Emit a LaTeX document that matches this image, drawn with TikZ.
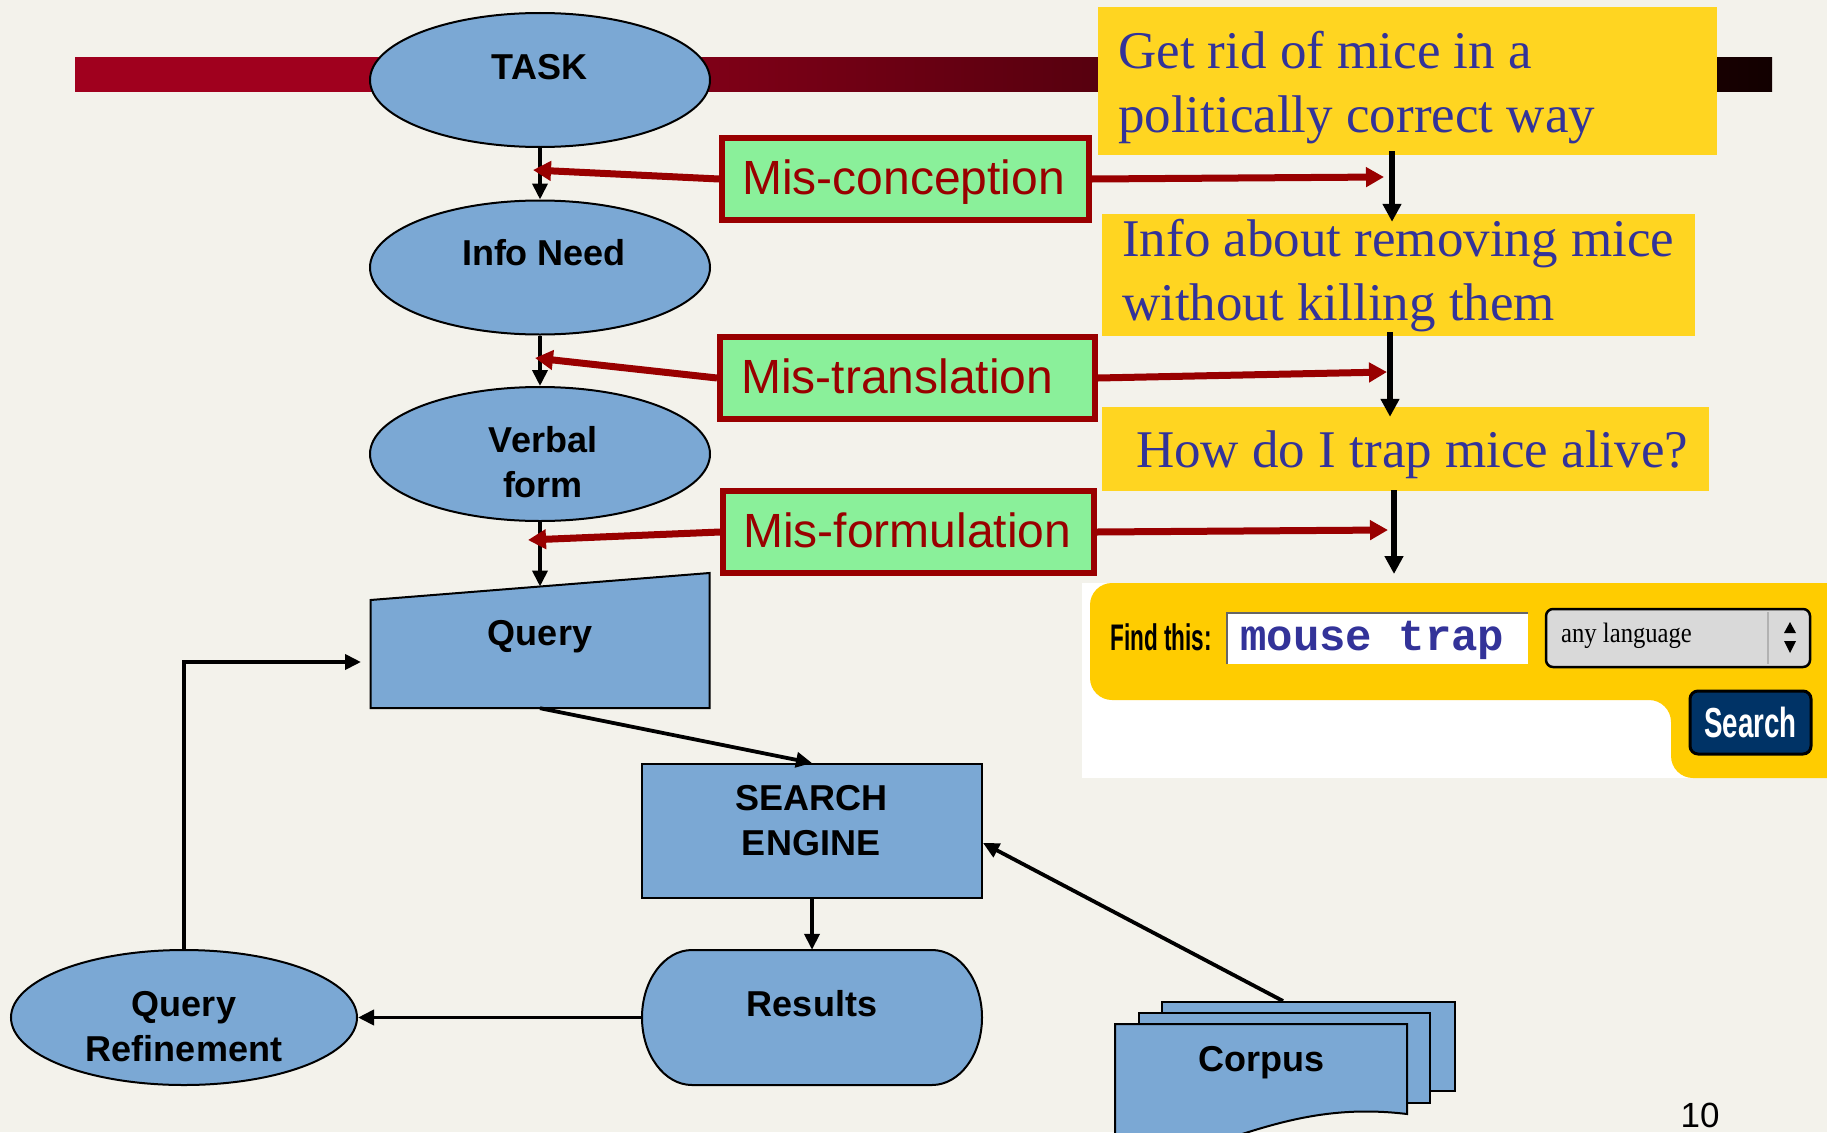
\documentclass[tikz,border=0pt]{standalone}
\usepackage{graphicx}
\usepackage{fontspec}
\setmainfont{Liberation Sans}
\newfontfamily\serifA{Liberation Serif}
\newfontfamily\monoA{Liberation Mono}
\usetikzlibrary{shapes.geometric,arrows.meta}
\definecolor{bgc}{HTML}{F3F2EB}
\definecolor{shapeblue}{HTML}{7BA8D4}
\definecolor{misred}{HTML}{990000}
\definecolor{misgreen}{HTML}{8AF09A}
\definecolor{noteyellow}{HTML}{FFD521}
\definecolor{notetext}{HTML}{333399}
\definecolor{wyellow}{HTML}{FFCC00}
\definecolor{navy}{HTML}{003366}
\definecolor{barred}{HTML}{A0001E}
\definecolor{bardark}{HTML}{120000}
\pgfdeclarehorizontalshading{barshade}{100bp}{color(0bp)=(barred); color(25bp)=(barred); color(34bp)=(barred); color(75bp)=(bardark); color(100bp)=(bardark)}
\begin{document}
\begin{tikzpicture}[x=1pt,y=-1pt,
  blueshape/.style={draw=black, line width=2pt, fill=shapeblue},
  ell/.style={blueshape, ellipse, inner sep=0pt},
  boxshape/.style={blueshape, rectangle, inner sep=0pt},
  hold/.style={rectangle, inner sep=0pt},
  lbl/.style={font=\bfseries\fontsize{36}{45}\selectfont, align=center, inner sep=0pt, anchor=base},
  misbox/.style={rectangle, draw=misred, fill=misgreen, line width=6pt, minimum height=82.5pt, inner sep=0pt},
  mistext/.style={text=misred, font=\fontsize{48}{58}\selectfont, anchor=base west, inner sep=0pt},
  note/.style={rectangle, fill=noteyellow, inner sep=0pt},
  notetxt/.style={text=notetext, font=\serifA\fontsize{53}{64}\selectfont, align=left, anchor=base west, inner sep=0pt},
  flow/.style={line width=3.8pt, -{Triangle[length=16pt,width=15pt]}},
  rflow/.style={line width=5.5pt, -{Triangle[length=18pt,width=18pt]}},
  redarrow/.style={draw=misred, line width=7pt, -{Triangle[length=18pt,width=19pt]}},
  wtext/.style={inner sep=0pt, anchor=base west}
]
\fill[bgc] (0,0) rectangle (1827,1132);
\useasboundingbox (0,0) rectangle (1827,1132);
\begin{scope}
\clip (0,0) rectangle (1827,1132);

% title bar
\draw[line width=2pt, black!65] (75,91) -- (1772,91);
\shade[shading=barshade] (75,58) rectangle (1772,91);

% left chain
\node[ell, minimum width=340pt, minimum height=134pt] (task) at (540,80) {};
\node[lbl] (tasklbl) at (539.5,79) {TASK};
\node[ell, minimum width=340pt, minimum height=134pt] (info) at (540,267.5) {};
\node[lbl] (infolbl) at (544,265) {Info Need};
\node[ell, minimum width=340pt, minimum height=134pt] (verbal) at (540,454) {};
\node[lbl] (verballbl) at (543,497) {Verbal\\form};

% query (manual input shape)
\path[blueshape] (370.5,600) -- (709.5,573) -- (709.5,708) -- (370.5,708) -- cycle;
\node[hold, minimum width=339pt, minimum height=135pt] (query) at (540,640.5) {};
\node[lbl] (querylbl) at (540,645) {Query};
\coordinate (qtop) at (540,586.5);
\coordinate (qin) at (361,662);

% search engine
\node[boxshape, minimum width=340pt, minimum height=134pt] (se) at (812,831) {};
\node[lbl] (selbl) at (811,855) {SEARCH\\ENGINE};

% results
\path[blueshape] (692,950) -- (932,950) arc[start angle=-90,end angle=90,x radius=50,y radius=67.5]
  -- (692,1085) arc[start angle=90,end angle=270,x radius=50,y radius=67.5] -- cycle;
\node[hold, minimum width=340pt, minimum height=135pt] (res) at (812,1017.5) {};
\node[lbl] (reslbl) at (812,1016) {Results};

% query refinement
\node[ell, minimum width=346pt, minimum height=135pt] (qr) at (184,1017.5) {};
\node[lbl] (qrlbl) at (184,1061) {Query\\Refinement};

% corpus
\node[boxshape, minimum width=293pt, minimum height=89pt] (cback) at (1308.5,1046.5) {};
\node[boxshape, minimum width=291pt, minimum height=90pt] (cmid) at (1284.5,1058) {};
\path[blueshape] (1115,1024) -- (1407,1024) -- (1407,1114)
  .. controls (1340,1106) and (1290,1118) .. (1230,1138)
  .. controls (1180,1152) and (1140,1150) .. (1115,1146) -- cycle;
\node[lbl] (corpuslbl) at (1261,1071) {Corpus};

% page number
\node[inner sep=0pt, anchor=base, font=\fontsize{35}{40}\selectfont] (pagenum) at (1700,1127) {10};

% yellow notes
\node[note, minimum width=619pt, minimum height=148pt] (note1) at (1407.5,81) {};
\node[notetxt] (note1txt) at (1118,132) {Get rid of mice in a\\politically correct way};
\node[note, minimum width=593pt, minimum height=122pt] (note2) at (1398.5,275) {};
\node[notetxt] (note2txt) at (1122,320) {Info about removing mice\\without killing them};
\node[note, minimum width=607pt, minimum height=84pt] (note3) at (1405.5,449) {};
\node[notetxt] (note3txt) at (1136,467) {How do I trap mice alive?};
\coordinate (endr) at (1394,574);

% mis boxes
\node[misbox, minimum width=367pt] (misc) at (905.5,179) {};
\node[mistext] (misctxt) at (742,194) {Mis-conception};
\node[misbox, minimum width=375pt] (mist) at (907.5,378) {};
\node[mistext] (misttxt) at (741,393) {Mis-translation};
\node[misbox, minimum width=371pt] (misf) at (908.5,532) {};
\node[mistext] (misftxt) at (743,547) {Mis-formulation};

% search widget
\fill[white] (1082,583) rectangle (1827,778);
\fill[wyellow, rounded corners=22pt] (1090,583) -- (1850,583) -- (1850,778) -- (1671,778) -- (1671,700) -- (1090,700) -- cycle;
\node[wtext, font=\bfseries\fontsize{37}{40}\selectfont] (findthis) at (1110,650) {\scalebox{0.61}[1]{Find this:}};
\fill[white] (1227,613) rectangle (1528,664);
\draw[line width=2.5pt, black!60] (1227,664) -- (1227,613) -- (1528,613);
\node[wtext, text=notetext, font=\monoA\bfseries\fontsize{44}{48}\selectfont] (mousetrap) at (1240,650) {mouse trap};
\draw[line width=2.5pt, fill=black!15, rounded corners=7pt] (1546,609) rectangle (1810,667);
\draw[line width=1.5pt, white!70!black] (1768,612) -- (1768,664);
\node[wtext, font=\serifA\fontsize{28}{30}\selectfont] (anylang) at (1561,642) {\scalebox{0.88}[1]{any language}};
\fill[black] (1784,633) -- (1796,633) -- (1790,622) -- cycle;
\fill[black] (1784,641) -- (1796,641) -- (1790,653) -- cycle;
\draw[line width=3pt, fill=navy, rounded corners=8pt] (1690,691) rectangle (1811,754);
\node[inner sep=0pt, anchor=base, text=white, font=\bfseries\fontsize{42}{44}\selectfont] (searchbtn) at (1750.5,737) {\scalebox{0.66}[1]{Search}};

% black connectors
\draw[flow] (task) -- (info);
\draw[flow] (info) -- (verbal);
\draw[flow] (verbal) -- (qtop);
\draw[flow] (query.south) -- (se.north);
\draw[flow] (se.south) -- (res.north);
\draw[flow] (res.west) -- (qr.east);
\draw[flow] (qr.north) |- (qin);
\draw[flow] ([xshift=-25.5pt]cback.north) -- ([yshift=-12pt]se.east);
\draw[rflow, shorten <=-4pt, shorten >=-8pt] (1392,0 |- note1.south) -- (1392,0 |- note2.north);
\draw[rflow, shorten <=-4pt, shorten >=-10pt] (1390,0 |- note2.south) -- (1390,0 |- note3.north);
\draw[rflow, shorten <=-1pt] (1394,0 |- note3.south) -- (endr);

% red arrows
\coordinate (c1l) at (533,170);
\coordinate (c1r) at (1384,177);
\coordinate (c2l) at (535,358);
\coordinate (c2r) at (1387,372);
\coordinate (c3l) at (528,540);
\coordinate (c3r) at (1388,530);
\draw[redarrow] (misc.west) -- (c1l);
\draw[redarrow] (misc.east) -- (c1r);
\draw[redarrow] (mist.west) -- (c2l);
\draw[redarrow] (mist.east) -- (c2r);
\draw[redarrow] (misf.west) -- (c3l);
\draw[redarrow] (misf.east) -- (c3r);
\end{scope}
\end{tikzpicture}
\end{document}
